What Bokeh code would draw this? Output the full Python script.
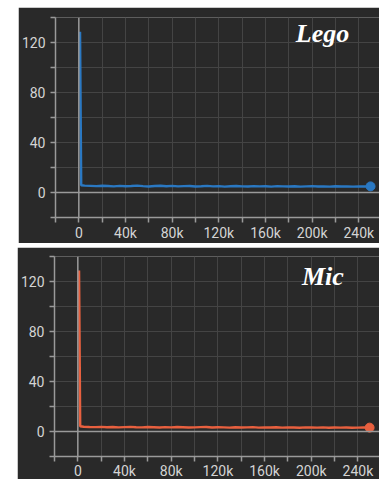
from bokeh.plotting import figure
from bokeh.layouts import column
from bokeh.models import FixedTicker, Span, Label
from bokeh.embed import file_html
from bokeh.resources import INLINE

# Training steps at which each loss value was logged
steps = [1000, 2000, 5000, 10000, 15000, 20000, 25000, 30000, 35000, 40000,
         45000, 50000, 55000, 60000, 65000, 70000, 75000, 80000, 85000, 90000,
         95000, 100000, 105000, 110000, 115000, 120000, 125000, 130000, 135000,
         140000, 145000, 150000, 155000, 160000, 165000, 170000, 175000, 180000,
         185000, 190000, 195000, 200000, 205000, 210000, 215000, 220000, 225000,
         230000, 235000, 240000, 245000, 250000]

lego_loss = [128.6, 5.8, 5.5, 5.3, 5.1, 5.4, 5.2, 4.9, 5.3, 5.0, 5.2, 5.5, 5.1,
             4.8, 5.2, 5.4, 5.0, 5.3, 4.9, 5.1, 5.2, 4.8, 5.0, 5.3, 4.9, 5.1,
             4.7, 5.0, 5.2, 4.9, 4.8, 5.1, 4.9, 5.0, 4.7, 5.1, 4.9, 4.8, 5.0,
             4.7, 4.9, 5.1, 4.8, 4.9, 4.7, 5.0, 4.8, 4.9, 4.7, 4.9, 4.8, 4.9]

mic_loss = [128.8, 4.2, 3.8, 3.6, 3.5, 3.7, 3.4, 3.6, 3.3, 3.5, 3.7, 3.4, 3.3,
            3.6, 3.4, 3.2, 3.5, 3.3, 3.6, 3.4, 3.2, 3.3, 3.5, 3.6, 3.2, 3.4,
            3.3, 3.1, 3.4, 3.2, 3.3, 3.5, 3.1, 3.3, 3.2, 3.4, 3.1, 3.3, 3.2,
            3.0, 3.3, 3.2, 3.1, 3.3, 3.0, 3.2, 3.1, 3.2, 3.0, 3.1, 3.2, 3.1]

y_ticks = [-20, 0, 20, 40, 60, 80, 100, 120, 140]
y_labels = {-20: "", 0: "0", 20: "", 40: "40", 60: "", 80: "80", 100: "", 120: "120", 140: ""}
x_ticks = [-20000, 0, 20000, 40000, 60000, 80000, 100000, 120000, 140000,
           160000, 180000, 200000, 220000, 240000, 260000]
x_labels = {-20000: "", 0: "0", 20000: "", 40000: "40k", 60000: "", 80000: "80k",
            100000: "", 120000: "120k", 140000: "", 160000: "160k", 180000: "",
            200000: "200k", 220000: "", 240000: "240k", 260000: ""}

BG = "#292929"
GRID = "#444444"
AXIS = "#9a9a9a"
TEXT = "#d4d4d4"


def panel(name, loss, color, frame_w, border_top, border_bottom, border_left,
          x_end, label_x, label_y, x_standoff):
    p = figure(frame_width=frame_w, frame_height=200, output_backend="svg",
               toolbar_location=None,
               x_range=(-20000, x_end), y_range=(-20, 140),
               min_border_left=border_left, min_border_right=0,
               min_border_top=border_top, min_border_bottom=border_bottom)
    p.background_fill_color = BG
    p.border_fill_color = BG
    p.outline_line_color = None

    p.xaxis.ticker = FixedTicker(ticks=x_ticks)
    p.yaxis.ticker = FixedTicker(ticks=y_ticks)
    p.xaxis.major_label_overrides = x_labels
    p.yaxis.major_label_overrides = y_labels
    for ax in (p.xaxis, p.yaxis):
        ax.axis_line_color = AXIS
        ax.axis_line_width = 1.5
        ax.major_tick_line_color = AXIS
        ax.major_tick_line_width = 1.5
        ax.major_tick_in = 0
        ax.major_tick_out = 5
        ax.minor_tick_line_color = None
        ax.major_label_text_color = TEXT
        ax.major_label_text_font = "Roboto"
        ax.major_label_text_font_size = "14px"
    p.yaxis.major_label_standoff = 5
    p.xaxis.major_label_standoff = x_standoff
    p.grid.grid_line_color = GRID
    p.grid.grid_line_width = 1

    # highlighted zero lines
    p.add_layout(Span(location=0, dimension="width", line_color=AXIS, line_width=1.5))
    p.add_layout(Span(location=0, dimension="height", line_color=AXIS, line_width=1.5))

    p.line(steps, loss, line_color=color, line_width=2.5)
    p.scatter(steps[-1:], loss[-1:], size=9, color=color)

    p.add_layout(Label(x=label_x, y=label_y, text=name, text_color="white",
                       text_font="Liberation Serif", text_font_style="bold italic",
                       text_font_size="26px", text_baseline="alphabetic"))
    return p


top = panel("Lego", lego_loss, "#2a78c2", 326, 10, 25, 35, 259400, 186000, 127, 2)
top.margin = (7, 0, 0, 18)
bottom = panel("Mic", mic_loss, "#e8603f", 327, 9, 22, 35, 260200, 192000, 124, 1)
bottom.margin = (4, 0, 0, 17)

page = column(top, bottom)
open("out.html", "w").write(file_html(page, INLINE))
